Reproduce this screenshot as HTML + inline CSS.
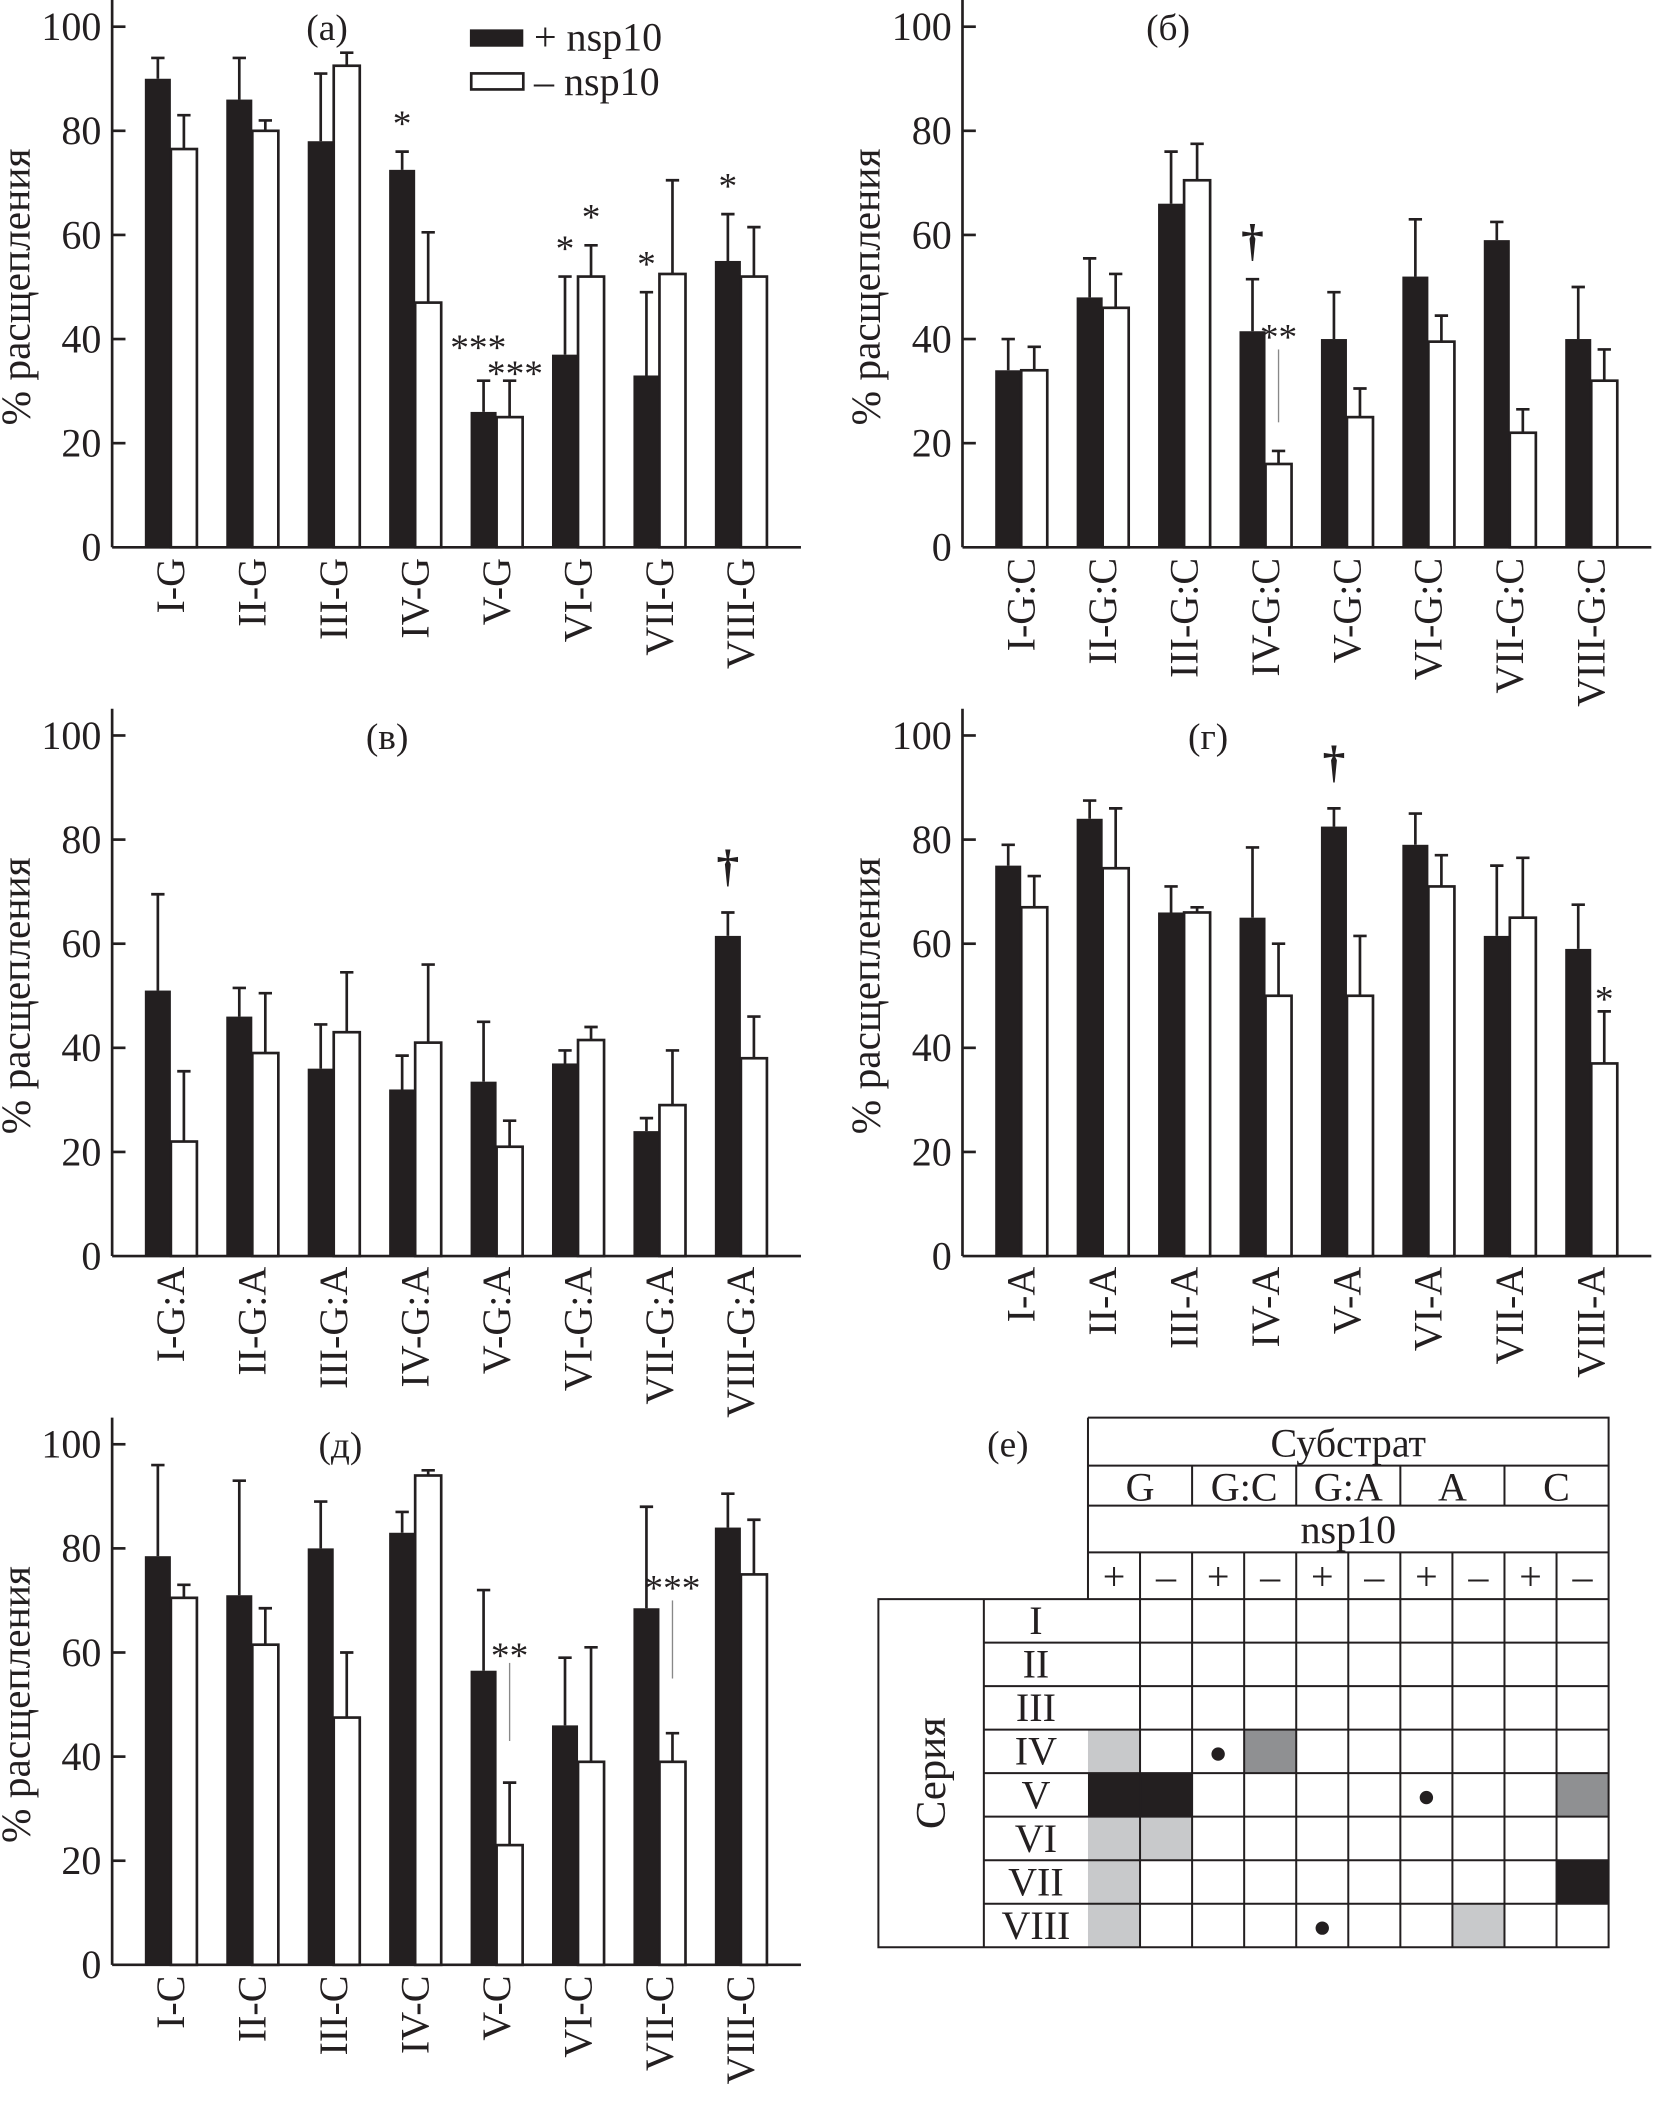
<!DOCTYPE html>
<html><head><meta charset="utf-8"><style>
html,body{margin:0;padding:0;background:#fff}
svg{display:block}
text{font-family:"Liberation Serif",serif;fill:#231f20}
</style></head><body>
<svg id="fig" width="1662" height="2105" viewBox="0 0 1245 1577" preserveAspectRatio="none" xmlns="http://www.w3.org/2000/svg"></svg>
<script>
const seriesNames = ["I","II","III","IV","V","VI","VII","VIII"];
const tickValues = [0,20,40,60,80,100];
// panel a (G)
const aPlus = [90,86,78,72.5,26,37,33,55];
const aPlusErr = [94,94,91,76,32,52,49,64];
const aMinus = [76.5,80,92.5,47,25,52,52.5,52];
const aMinusErr = [83,82,95,60.5,32,58,70.5,61.5];
// panel b (G:C)
const bPlus = [34,48,66,41.5,40,52,59,40];
const bPlusErr = [40,55.5,76,51.5,49,63,62.5,50];
const bMinus = [34,46,70.5,16,25,39.5,22,32];
const bMinusErr = [38.5,52.5,77.5,18.5,30.5,44.5,26.5,38];
// panel v (G:A)
const vPlus = [51,46,36,32,33.5,37,24,61.5];
const vPlusErr = [69.5,51.5,44.5,38.5,45,39.5,26.5,66];
const vMinus = [22,39,43,41,21,41.5,29,38];
const vMinusErr = [35.5,50.5,54.5,56,26,44,39.5,46];
// panel g (A)
const gPlus = [75,84,66,65,82.5,79,61.5,59];
const gPlusErr = [79,87.5,71,78.5,86,85,75,67.5];
const gMinus = [67,74.5,66,50,50,71,65,37];
const gMinusErr = [73,86,67,60,61.5,77,76.5,47];
// panel d (C)
const dPlus = [78.5,71,80,83,56.5,46,68.5,84];
const dPlusErr = [96,93,89,87,72,59,88,90.5];
const dMinus = [70.5,61.5,47.5,94,23,39,39,75];
const dMinusErr = [73,68.5,60,95,35,61,44.5,85.5];
// table (e)
const substrates = ["G","G:C","G:A","A","C"];
const tableCells = [ // [row, col, kind]
 [3,0,"light"],[3,2,"dot"],[3,3,"dark"],
 [4,0,"black"],[4,1,"black"],[4,6,"dot"],[4,9,"dark"],
 [5,0,"light"],[5,1,"light"],
 [6,0,"light"],[6,9,"black"],
 [7,0,"light"],[7,4,"dot"],[7,7,"light"]
];

const NS="http://www.w3.org/2000/svg";
const svg=document.getElementById('fig');
function mk(tag,attrs,parent){const e=document.createElementNS(NS,tag);for(const k in attrs)e.setAttribute(k,attrs[k]);(parent||svg).appendChild(e);return e;}

function panel(cfg){
  const g=mk('g',{});
  
  
  const y=v=>cfg.y0-(cfg.y0-cfg.y100)*v/100;
  const bx=i=>cfg.ax+24.5+61*i;
  const bw=19.5;
  const ya=mk('line',{x1:cfg.ax,y1:cfg.ytop,x2:cfg.ax,y2:cfg.y0,stroke:'#231f20','stroke-width':2},g);
  
  const xa=mk('line',{x1:cfg.ax,y1:cfg.y0,x2:cfg.ax+516,y2:cfg.y0,stroke:'#231f20','stroke-width':2},g);
  
  tickValues.forEach(t=>{
    if(t>0){const tk=mk('line',{x1:cfg.ax,y1:y(t),x2:cfg.ax+10,y2:y(t),stroke:'#231f20','stroke-width':2},g);
    }
    const tl=mk('text',{x:cfg.ax-8,y:y(t)+10,'text-anchor':'end','font-size':30},g);
    tl.textContent=t;
    
  });
  const yt=mk('text',{x:0,y:0,'text-anchor':'middle','font-size':31,transform:`translate(${cfg.ax-62},${(cfg.y0+cfg.y100)/2}) rotate(-90)`},g);
  yt.textContent='% расщепления';
  
  const ti=mk('text',{x:cfg.tx,y:cfg.y100+10,'text-anchor':'middle','font-size':28},g);
  ti.textContent=cfg.title;
  
  function err(x,v,e){
    const l=mk('path',{d:`M${x},${y(v)} V${y(e)} M${x-5},${y(e)} H${x+5}`,stroke:'#231f20','stroke-width':2,fill:'none'},g);
    
  }
  seriesNames.forEach((s,i)=>{
    const x=bx(i);
    err(x+bw/2,cfg.plus[i],cfg.plusErr[i]);
    err(x+bw*1.5,cfg.minus[i],cfg.minusErr[i]);
    const b1=mk('rect',{x:x,y:y(cfg.plus[i]),width:bw,height:y(0)-y(cfg.plus[i]),fill:'#231f20'},g);
    
    const b2=mk('rect',{x:x+bw,y:y(cfg.minus[i]),width:bw,height:y(0)-y(cfg.minus[i]),fill:'#fff',stroke:'#231f20','stroke-width':2},g);
    
    const lb=mk('text',{x:0,y:0,'text-anchor':'end','font-size':30,transform:`translate(${x+bw+10},${cfg.y0+8}) rotate(-90)`},g);
    lb.textContent=s+'-'+cfg.suffix;
    
  });
  (cfg.marks||[]).forEach(m=>{
    const x=bx(m[0])+bw*(m[1]?1.5:0.5)+(m[4]||0);
    const t=mk('text',{x:x,y:y(m[2]),'text-anchor':'middle','font-size':m[3]==='†'?34:28,'font-weight':m[3]==='†'?'bold':'normal'},g);
    t.textContent=m[3];
    
  });
  (cfg.lines||[]).forEach(l=>{
    const x=bx(l[0])+bw*1.5;
    const ln=mk('line',{x1:x,y1:y(l[1]),x2:x,y2:y(l[2]),stroke:'#888','stroke-width':1},g);
    
  });
}

panel({name:'panel-a',ax:84,y0:410,y100:20,ytop:0,tx:245,title:'(а)',suffix:'G',plus:aPlus,plusErr:aPlusErr,minus:aMinus,minusErr:aMinusErr,
 marks:[[3,0,79,'*'],[4,0,36,'***',-4],[4,1,31,'***',4],[5,0,55,'*'],[5,1,61,'*'],[6,0,52,'*'],[7,0,67,'*']]});
panel({name:'panel-b',ax:721,y0:410,y100:20,ytop:0,tx:875,title:'(б)',suffix:'G:C',plus:bPlus,plusErr:bPlusErr,minus:bMinus,minusErr:bMinusErr,
 marks:[[3,0,56,'†'],[3,1,38,'**']],lines:[[3,38,24]]});
panel({name:'panel-v',ax:84,y0:941,y100:551,ytop:531,tx:290,title:'(в)',suffix:'G:A',plus:vPlus,plusErr:vPlusErr,minus:vMinus,minusErr:vMinusErr,
 marks:[[7,0,72,'†']]});
panel({name:'panel-g',ax:721,y0:941,y100:551,ytop:531,tx:905,title:'(г)',suffix:'A',plus:gPlus,plusErr:gPlusErr,minus:gMinus,minusErr:gMinusErr,
 marks:[[4,0,92,'†'],[7,1,47,'*']]});
panel({name:'panel-d',ax:84,y0:1472,y100:1082,ytop:1062,tx:255,title:'(д)',suffix:'C',plus:dPlus,plusErr:dPlusErr,minus:dMinus,minusErr:dMinusErr,
 marks:[[4,1,57,'**'],[6,1,70,'***']],lines:[[4,58,43],[6,70,55]]});

// legend
const lg=mk('g',{});

const l1=mk('rect',{x:352,y:22,width:40,height:13,fill:'#231f20'},lg);

const lt1=mk('text',{x:400,y:38,'font-size':30},lg);lt1.textContent='+ nsp10';

const l2=mk('rect',{x:353,y:55,width:39,height:12,fill:'#fff',stroke:'#231f20','stroke-width':2},lg);

const lt2=mk('text',{x:400,y:71,'font-size':30},lg);lt2.textContent='– nsp10';


// table
const tg=mk('g',{});

const L=815,R=1205,cw=39,rowTop=1198,rh=32.6;
const tt=mk('text',{x:755,y:1091,'text-anchor':'middle','font-size':28},tg);tt.textContent='(е)';

const fills={light:'#c8c9cb',dark:'#8f9092',black:'#231f20'};
tableCells.forEach(c=>{
  const x=L+c[1]*cw,y=rowTop+c[0]*rh;
  if(c[2]==='dot'){const d=mk('circle',{cx:x+cw/2,cy:y+rh/2+2,r:5,fill:'#231f20'},tg);
    }
  else{const r=mk('rect',{x:x,y:y,width:cw,height:rh,fill:fills[c[2]]},tg);
    }
});
let p='';
p+=`M${L},1062 H${R} V${rowTop+8*rh} H658 V${rowTop} H${L} V1062 M${L},1098 H${R} M${L},1128 H${R} M${L},1163 H${R}`;
for(let k=1;k<5;k++)p+=` M${L+k*2*cw},1098 V1128`;
for(let k=1;k<10;k++)p+=` M${L+k*cw},1163 V${rowTop+8*rh}`;
for(let r=0;r<8;r++)p+=` M737,${rowTop+r*rh} H${R}`;
p+=` M737,${rowTop} V${rowTop+8*rh}`;
const gp=mk('path',{d:p,stroke:'#231f20','stroke-width':1.5,fill:'none'},tg);

function tx(x,y,s,name,size){const t=mk('text',{x:x,y:y,'text-anchor':'middle','font-size':size||30},tg);t.textContent=s;
 }
tx((L+R)/2,1091,'Субстрат','table-header-substrate');
substrates.forEach((s,i)=>tx(L+cw*(2*i+1),1124,s,'table-substrate-label'));
tx((L+R)/2,1156,'nsp10','table-header-nsp10');
for(let k=0;k<10;k++)tx(L+cw*k+cw/2,1191,k%2?'–':'+','table-sign-label');
seriesNames.forEach((s,i)=>tx(776,rowTop+i*rh+rh/2+10,s,'table-row-label'));
const se=mk('text',{x:0,y:0,'text-anchor':'middle','font-size':32,transform:`translate(708,${rowTop+4*rh}) rotate(-90)`},tg);
se.textContent='Серия';
</script>
</body></html>
